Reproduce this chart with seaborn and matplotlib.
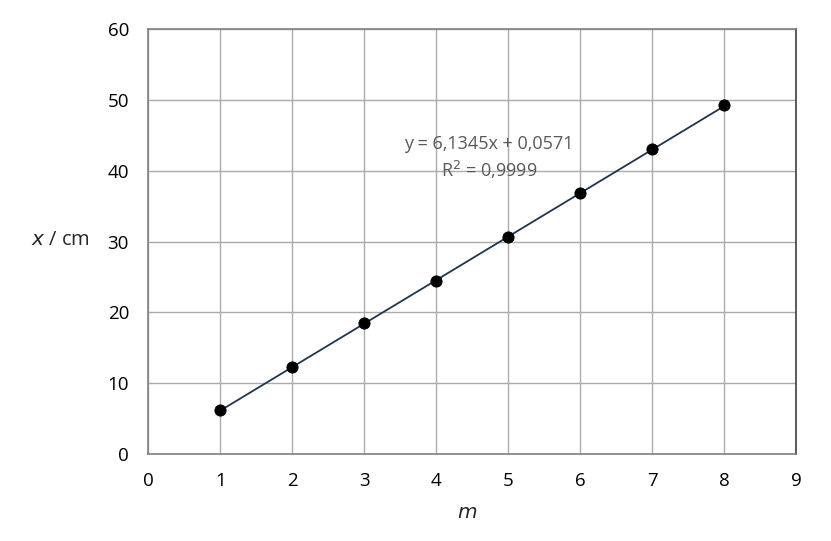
import numpy as np
import pandas as pd
import matplotlib
matplotlib.use("Agg")
import matplotlib.pyplot as plt
import seaborn as sns

# données
m_values = [1, 2, 3, 4, 5, 6, 7, 8]
x_cm = [6.2, 12.3, 18.5, 24.4, 30.6, 36.8, 43.0, 49.2]
equation_text = "y = 6,1345x + 0,0571"
r2_text = "R$^2$ = 0,9999"

sns.set_theme(style="whitegrid")
plt.rcParams['font.family'] = ['Open Sans', 'DejaVu Sans']

df = pd.DataFrame({"m": m_values, "x": x_cm})

fig = plt.figure(figsize=(8.31, 5.41), dpi=100)
ax = fig.add_axes([0.1787, 0.1608, 0.958 - 0.1787, 0.9464 - 0.1608])

# droite de tendance (régression linéaire)
coef = np.polyfit(df["m"], df["x"], 1)
xs = np.array([df["m"].min(), df["m"].max()])
sns.lineplot(x=xs, y=np.polyval(coef, xs), ax=ax, color="#1f3550", linewidth=1.3, zorder=3)
sns.scatterplot(data=df, x="m", y="x", ax=ax, color="black", s=65, edgecolor="black", zorder=4)

ax.set_xlim(0, 9)
ax.set_ylim(0, 60)
ax.set_xticks(range(0, 10))
ax.set_yticks(range(0, 61, 10))
ax.grid(True, color="#ababab", linewidth=1)
ax.tick_params(axis="both", length=0, labelsize=13.5, colors="black")
ax.tick_params(axis="y", pad=14)
ax.tick_params(axis="x", pad=13)
for side in ["left", "bottom", "top"]:
    ax.spines[side].set_color("#808080")
    ax.spines[side].set_linewidth(1.2)
ax.spines["right"].set_color("#404040")
ax.spines["right"].set_linewidth(1.2)

ax.set_xlabel("")
ax.set_ylabel("")
fig.text(60 / 831, 1 - 240 / 541, "$x$ / cm", ha="center", va="center", fontsize=14.5)
fig.text(467 / 831, 1 - 513 / 541, "$m$", ha="center", va="center", fontsize=14.5)

ax.text(4.73, 43.8, equation_text, ha="center", va="center", fontsize=13, color="#595959")
ax.text(4.73, 40.1, r2_text, ha="center", va="center", fontsize=13, color="#595959")

fig.savefig("out.png", dpi=100)
